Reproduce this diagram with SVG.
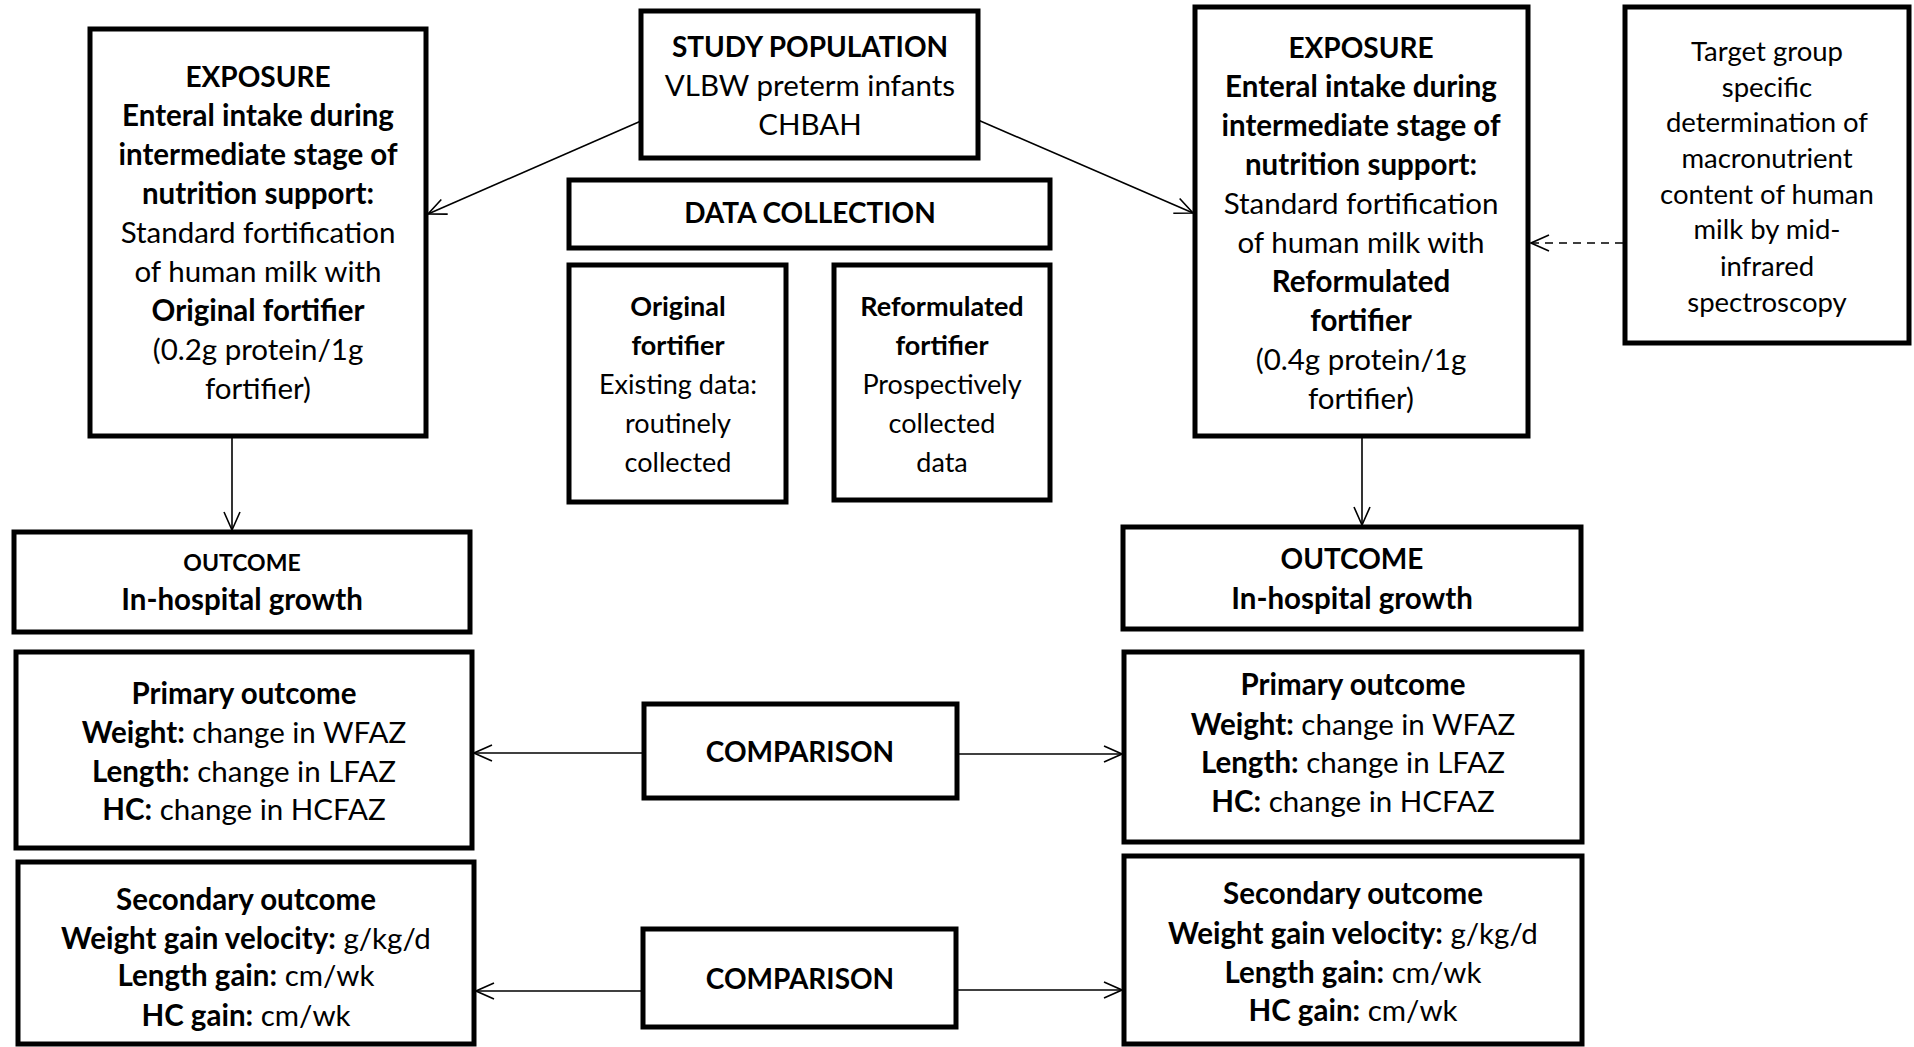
<svg xmlns="http://www.w3.org/2000/svg" width="1914" height="1047" viewBox="0 0 1914 1047">
<style>
  .box { fill: #ffffff; stroke: #000000; stroke-width: 5; }
  .t { font-family: Lato, "Liberation Sans", sans-serif; font-size: 29.5px; fill: #000000; text-anchor: middle; }
  .c { font-size: 28px; }
  .s { font-size: 27px; }
  .g { font-size: 27.5px; }
  .xs { font-size: 23px; }
  .b { font-weight: 700; }
  .con { fill: none; stroke: #000000; stroke-width: 1.6; marker-end: url(#arr); }
  .dash { stroke-dasharray: 8 6; }
</style>
<defs>
  <marker id="arr" markerUnits="userSpaceOnUse" markerWidth="20" markerHeight="18" viewBox="0 0 20 18" refX="19" refY="9" orient="auto">
    <path d="M1,1 L19,9 L1,17" fill="none" stroke="#000000" stroke-width="1.6"/>
  </marker>
</defs>
<rect width="1914" height="1047" fill="#ffffff"/>

<g id="connectors">
  <line class="con" x1="641" y1="121" x2="428" y2="214"/>
  <line class="con" x1="978" y1="120" x2="1193" y2="213"/>
  <line class="con" x1="232" y1="436" x2="232" y2="530"/>
  <line class="con" x1="1362" y1="436" x2="1362" y2="525"/>
  <line class="con dash" x1="1623" y1="243" x2="1531" y2="243"/>
  <line class="con" x1="644" y1="753" x2="474" y2="753"/>
  <line class="con" x1="957" y1="754" x2="1122" y2="754"/>
  <line class="con" x1="643" y1="991" x2="476" y2="991"/>
  <line class="con" x1="956" y1="990" x2="1122" y2="990"/>
</g>

<g id="exposure-left">
  <rect class="box" x="90" y="29" width="336" height="407"/>
  <text class="t c b" x="258" y="87">EXPOSURE</text>
  <text class="t b" x="258" y="126">Enteral intake during</text>
  <text class="t b" x="258" y="165">intermediate stage of</text>
  <text class="t b" x="258" y="204">nutrition support:</text>
  <text class="t" x="258" y="243">Standard fortification</text>
  <text class="t" x="258" y="282">of human milk with</text>
  <text class="t b" x="258" y="321">Original fortifier</text>
  <text class="t" x="258" y="360">(0.2g protein/1g</text>
  <text class="t" x="258" y="399">fortifier)</text>
</g>

<g id="study-population">
  <rect class="box" x="641" y="11" width="337" height="147"/>
  <text class="t c b" x="810" y="57">STUDY POPULATION</text>
  <text class="t" x="810" y="96">VLBW preterm infants</text>
  <text class="t" x="810" y="135">CHBAH</text>
</g>

<g id="data-collection">
  <rect class="box" x="569" y="180" width="481" height="68"/>
  <text class="t c b" x="810" y="223">DATA COLLECTION</text>
</g>

<g id="original-data">
  <rect class="box" x="569" y="265" width="217" height="237"/>
  <text class="t s b" x="678" y="316">Original</text>
  <text class="t s b" x="678" y="355">fortifier</text>
  <text class="t s" x="678" y="394">Existing data:</text>
  <text class="t s" x="678" y="433">routinely</text>
  <text class="t s" x="678" y="472">collected</text>
</g>

<g id="reformulated-data">
  <rect class="box" x="834" y="265" width="216" height="235"/>
  <text class="t s b" x="942" y="316">Reformulated</text>
  <text class="t s b" x="942" y="355">fortifier</text>
  <text class="t s" x="942" y="394">Prospectively</text>
  <text class="t s" x="942" y="433">collected</text>
  <text class="t s" x="942" y="472">data</text>
</g>

<g id="exposure-right">
  <rect class="box" x="1195" y="7" width="333" height="429"/>
  <text class="t c b" x="1361" y="58">EXPOSURE</text>
  <text class="t b" x="1361" y="97">Enteral intake during</text>
  <text class="t b" x="1361" y="136">intermediate stage of</text>
  <text class="t b" x="1361" y="175">nutrition support:</text>
  <text class="t" x="1361" y="214">Standard fortification</text>
  <text class="t" x="1361" y="253">of human milk with</text>
  <text class="t b" x="1361" y="292">Reformulated</text>
  <text class="t b" x="1361" y="331">fortifier</text>
  <text class="t" x="1361" y="370">(0.4g protein/1g</text>
  <text class="t" x="1361" y="409">fortifier)</text>
</g>

<g id="target-group">
  <rect class="box" x="1625" y="7" width="284" height="336"/>
  <text class="t g" x="1767" y="61">Target group</text>
  <text class="t g" x="1767" y="97">specific</text>
  <text class="t g" x="1767" y="132">determination of</text>
  <text class="t g" x="1767" y="168">macronutrient</text>
  <text class="t g" x="1767" y="204">content of human</text>
  <text class="t g" x="1767" y="239">milk by mid-</text>
  <text class="t g" x="1767" y="276">infrared</text>
  <text class="t g" x="1767" y="312">spectroscopy</text>
</g>

<g id="outcome-left">
  <rect class="box" x="14" y="532" width="456" height="100"/>
  <text class="t xs b" x="242" y="571">OUTCOME</text>
  <text class="t b" x="242" y="610">In-hospital growth</text>
</g>

<g id="outcome-right">
  <rect class="box" x="1123" y="527" width="458" height="102"/>
  <text class="t c b" x="1352" y="569">OUTCOME</text>
  <text class="t b" x="1352" y="609">In-hospital growth</text>
</g>

<g id="primary-left">
  <rect class="box" x="16" y="652" width="456" height="196"/>
  <text class="t b" x="244" y="704">Primary outcome</text>
  <text class="t" x="244" y="743"><tspan class="b">Weight:</tspan> change in WFAZ</text>
  <text class="t" x="244" y="782"><tspan class="b">Length:</tspan> change in LFAZ</text>
  <text class="t" x="244" y="820"><tspan class="b">HC:</tspan> change in HCFAZ</text>
</g>

<g id="primary-right">
  <rect class="box" x="1124" y="652" width="458" height="190"/>
  <text class="t b" x="1353" y="695">Primary outcome</text>
  <text class="t" x="1353" y="735"><tspan class="b">Weight:</tspan> change in WFAZ</text>
  <text class="t" x="1353" y="773"><tspan class="b">Length:</tspan> change in LFAZ</text>
  <text class="t" x="1353" y="812"><tspan class="b">HC:</tspan> change in HCFAZ</text>
</g>

<g id="secondary-left">
  <rect class="box" x="18" y="862" width="456" height="182"/>
  <text class="t b" x="246" y="910">Secondary outcome</text>
  <text class="t" x="246" y="949"><tspan class="b">Weight gain velocity:</tspan> g/kg/d</text>
  <text class="t" x="246" y="986"><tspan class="b">Length gain:</tspan> cm/wk</text>
  <text class="t" x="246" y="1026"><tspan class="b">HC gain:</tspan> cm/wk</text>
</g>

<g id="secondary-right">
  <rect class="box" x="1124" y="856" width="458" height="188"/>
  <text class="t b" x="1353" y="904">Secondary outcome</text>
  <text class="t" x="1353" y="944"><tspan class="b">Weight gain velocity:</tspan> g/kg/d</text>
  <text class="t" x="1353" y="983"><tspan class="b">Length gain:</tspan> cm/wk</text>
  <text class="t" x="1353" y="1021"><tspan class="b">HC gain:</tspan> cm/wk</text>
</g>

<g id="comparison-primary">
  <rect class="box" x="644" y="704" width="313" height="94"/>
  <text class="t c b" x="800" y="762">COMPARISON</text>
</g>

<g id="comparison-secondary">
  <rect class="box" x="643" y="929" width="313" height="98"/>
  <text class="t c b" x="800" y="989">COMPARISON</text>
</g>
</svg>
